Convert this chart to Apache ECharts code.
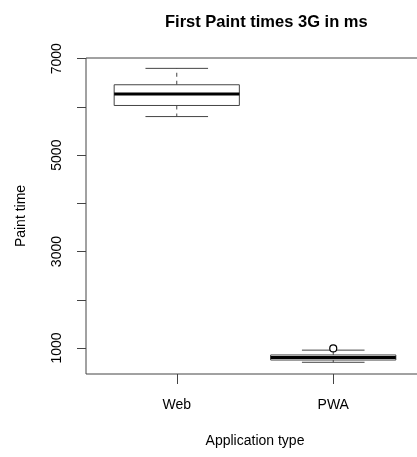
<!DOCTYPE html>
<html>
<head>
<meta charset="utf-8">
<script src="https://cdn.jsdelivr.net/npm/echarts@6/dist/echarts.min.js"></script>
<style>
  html, body { margin: 0; padding: 0; background: #fff; overflow: hidden; }
  #chart { width: 417px; height: 457px; }
</style>
</head>
<body>
<div id="chart"></div>
<script>
// Box summary per application type (ms)
const categories = ['Web', 'PWA'];
const whiskerLow = [5800, 703];
const q1 = [6030, 750];
const median = [6270, 800];
const q3 = [6460, 855];
const whiskerHigh = [6800, 955];
// Outliers: [category index, value]
const outliers = [[1, 990]];
const yTickValues = [1000, 2000, 3000, 4000, 5000, 6000, 7000];
const yLabelValues = [1000, 3000, 5000, 7000];

const FONT = '"Liberation Sans", Arial, Helvetica, sans-serif';
const INK = '#000';
const FRAME = '#444';

const boxData = categories.map((c, i) => [i + 1, whiskerLow[i], q1[i], median[i], q3[i], whiskerHigh[i]]);
const outlierData = outliers.map(o => [o[0] + 1, o[1]]);

function renderBox(params, api) {
  const x = api.value(0);
  const pLow = api.coord([x, api.value(1)]);
  const pQ1 = api.coord([x, api.value(2)]);
  const pMed = api.coord([x, api.value(3)]);
  const pQ3 = api.coord([x, api.value(4)]);
  const pHigh = api.coord([x, api.value(5)]);
  const halfBox = api.size([0.8, 0])[0] / 2;
  const halfCap = halfBox / 2;
  const cx = pMed[0];
  const line = (x1, y1, x2, y2, extra) => ({
    type: 'line',
    shape: { x1, y1, x2, y2 },
    style: Object.assign({ stroke: FRAME, lineWidth: 1, fill: null }, extra || {})
  });
  return {
    type: 'group',
    children: [
      line(cx, pQ3[1], cx, pHigh[1], { lineDash: [4, 4] }),
      line(cx, pQ1[1], cx, pLow[1], { lineDash: [4, 4] }),
      line(cx - halfCap, pHigh[1], cx + halfCap, pHigh[1]),
      line(cx - halfCap, pLow[1], cx + halfCap, pLow[1]),
      {
        type: 'rect',
        shape: { x: cx - halfBox, y: pQ3[1], width: halfBox * 2, height: pQ1[1] - pQ3[1] },
        style: { stroke: FRAME, lineWidth: 1, fill: '#fff' }
      },
      line(cx - halfBox, pMed[1], cx + halfBox, pMed[1], { lineWidth: 3, stroke: INK })
    ]
  };
}

const chart = echarts.init(document.getElementById('chart'), null, { renderer: 'canvas' });
chart.setOption({
  animation: false,
  backgroundColor: '#fff',
  title: {
    text: 'First Paint times 3G in ms',
    left: 160,
    top: 9,
    textStyle: { fontFamily: FONT, fontSize: 16.5, fontWeight: 'bold', color: INK }
  },
  grid: {
    left: 86,
    width: 338,
    top: 58,
    height: 316,
    outerBoundsMode: 'none',
    containLabel: false,
    show: true,
    borderColor: FRAME,
    borderWidth: 1,
    backgroundColor: 'transparent'
  },
  xAxis: {
    type: 'value',
    min: 0.42,
    max: 2.58,
    name: 'Application type',
    nameLocation: 'middle',
    nameGap: 60,
    nameTextStyle: { fontFamily: FONT, fontSize: 14, color: INK },
    axisLine: { show: false },
    splitLine: { show: false },
    axisTick: {
      show: true,
      length: 10,
      inside: false,
      customValues: [1, 2],
      lineStyle: { color: FRAME, width: 1 }
    },
    axisLabel: {
      customValues: [1, 2],
      margin: 24,
      fontFamily: FONT,
      fontSize: 14,
      color: INK,
      formatter: v => categories[Math.round(v) - 1] || ''
    }
  },
  yAxis: {
    type: 'value',
    min: 460,
    max: 7015,
    name: 'Paint time',
    nameLocation: 'middle',
    nameGap: 58,
    nameRotate: 90,
    nameTextStyle: { fontFamily: FONT, fontSize: 14, color: INK },
    axisLine: { show: false },
    splitLine: { show: false },
    axisTick: {
      show: true,
      length: 9,
      inside: false,
      customValues: yTickValues,
      lineStyle: { color: FRAME, width: 1 }
    },
    axisLabel: {
      customValues: yLabelValues,
      rotate: 90,
      margin: 22,
      fontFamily: FONT,
      fontSize: 14,
      color: INK,
      formatter: v => String(v)
    }
  },
  series: [
    {
      type: 'custom',
      renderItem: renderBox,
      encode: { x: 0, y: [1, 2, 3, 4, 5] },
      data: boxData,
      clip: false,
      z: 2
    },
    {
      type: 'scatter',
      data: outlierData,
      symbol: 'circle',
      symbolSize: 7,
      itemStyle: { color: '#fff', borderColor: INK, borderWidth: 1.2, opacity: 1 },
      z: 5
    }
  ]
});
</script>
</body>
</html>
